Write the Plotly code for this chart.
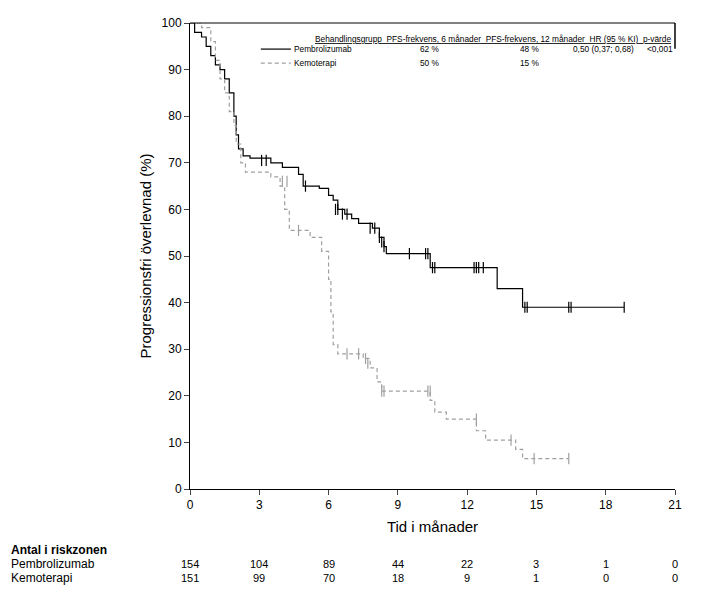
import plotly.graph_objects as go

# Kaplan-Meier steps (months, % PFS)
pem_t = [0, 0.2, 0.5, 0.7, 0.9, 1.1, 1.3, 1.5, 1.7, 1.9, 2.0, 2.1, 2.3, 2.6, 3.5, 4.0, 4.7, 4.9, 5.6, 6.0, 6.2, 6.4, 6.7, 7.0, 7.3, 7.9, 8.2, 8.4, 8.5, 10.4, 13.3, 14.4, 18.8]
pem_s = [100, 98, 97, 95, 93, 91, 90, 88, 85, 80, 76, 73, 71.5, 71, 70, 69, 67.5, 65, 64.5, 63, 62, 60, 59, 58, 57, 56, 54, 52, 50.5, 47.5, 43, 39, 39]
pem_cens_t = [3.1, 3.3, 5.0, 6.3, 6.4, 6.6, 6.8, 7.8, 8.0, 8.2, 8.3, 8.4, 9.5, 10.2, 10.3, 10.5, 10.6, 12.3, 12.4, 12.5, 12.7, 14.5, 14.6, 16.4, 16.5, 18.8]
pem_cens_s = [70.5, 70.5, 65, 60, 60, 59, 59, 56, 56, 54, 53, 52, 50.5, 50.5, 50.5, 47.5, 47.5, 47.5, 47.5, 47.5, 47.5, 39, 39, 39, 39, 39]

kem_t = [0, 0.5, 0.9, 1.1, 1.3, 1.5, 1.7, 1.9, 2.0, 2.2, 2.4, 3.5, 3.9, 4.1, 4.3, 5.2, 5.7, 6.0, 6.1, 6.2, 6.4, 7.5, 7.8, 8.1, 8.3, 10.4, 10.6, 11.1, 12.4, 12.8, 14.1, 14.4, 16.4]
kem_s = [100, 99, 96, 92, 88, 85, 81, 78, 74, 70, 68, 67, 65, 60, 55.5, 54, 51, 45, 38, 31, 29, 28, 26, 23, 21, 19, 16.5, 15, 12.5, 10.5, 8.5, 6.5, 6.5]
kem_cens_t = [4.0, 4.2, 4.7, 6.8, 7.3, 7.6, 7.7, 8.3, 8.4, 10.3, 10.4, 12.4, 13.9, 14.9, 16.4]
kem_cens_s = [66, 66, 55.5, 29, 29, 28, 27, 21, 21, 21, 21, 15, 10.5, 6.5, 6.5]

risk_times = [0, 3, 6, 9, 12, 15, 18, 21]
risk_pem = [154, 104, 89, 44, 22, 3, 1, 0]
risk_kem = [151, 99, 70, 18, 9, 1, 0, 0]

FONT = "Liberation Sans, Arial"
KEM_COL = "#a0a0a0"
fig = go.Figure()
fig.add_trace(go.Scatter(x=pem_t, y=pem_s, mode="lines", line=dict(shape="hv", color="black", width=1.2), showlegend=False))
fig.add_trace(go.Scatter(x=pem_cens_t, y=pem_cens_s, mode="markers", marker=dict(symbol="line-ns", size=8, line=dict(color="black", width=1.2)), showlegend=False))
fig.add_trace(go.Scatter(x=kem_t, y=kem_s, mode="lines", line=dict(shape="hv", color=KEM_COL, width=1.2, dash="4px,3px"), showlegend=False))
fig.add_trace(go.Scatter(x=kem_cens_t, y=kem_cens_s, mode="markers", marker=dict(symbol="line-ns", size=8, line=dict(color=KEM_COL, width=1.2)), showlegend=False))

fig.update_layout(
    width=719, height=601, plot_bgcolor="white", paper_bgcolor="white",
    margin=dict(l=182, r=52, t=15, b=120, autoexpand=False),
    font=dict(family=FONT, size=12, color="black"),
    xaxis=dict(range=[0, 21], tickvals=risk_times, ticks="outside", ticklen=5, showline=True, linecolor="black",
               showgrid=False, zeroline=False, automargin=False,
               title=dict(text="Tid i månader", font=dict(size=15), standoff=10)),
    yaxis=dict(range=[0, 100], dtick=10, ticks="outside", ticklen=5, showline=True, linecolor="black",
               showgrid=False, zeroline=False, automargin=False,
               title=dict(text="Progressionsfri överlevnad (%)", font=dict(size=15), standoff=6)),
)
# top border and legend box edge
fig.add_shape(type="line", xref="paper", yref="paper", x0=0, x1=1, y0=1, y1=1, line=dict(color="black", width=1))
fig.add_shape(type="line", xref="paper", yref="paper", x0=1, x1=1, y0=1, y1=0.945, line=dict(color="black", width=1.5))

# legend table
fig.add_annotation(xref="paper", yref="paper", x=0.995, y=0.966, xanchor="right", yanchor="middle", showarrow=False,
                   text="<u>Behandlingsgrupp  PFS-frekvens, 6 månader  PFS-frekvens, 12 månader  HR (95 % KI)  p-värde</u>",
                   font=dict(size=8.3))
rows = [("Pembrolizumab", "62 %", "48 %", "0,50 (0,37; 0,68)", "<0,001", "black", "solid"),
        ("Kemoterapi", "50 %", "15 %", "", "", KEM_COL, "4px,3px")]
for i, (name, a, b, hr, p, col, dash) in enumerate(rows):
    y = 0.944 - i * 0.03
    fig.add_shape(type="line", xref="paper", yref="paper", x0=0.146, x1=0.208, y0=y, y1=y, line=dict(color=col, width=1.2, dash=dash))
    for xx, t in [(0.21, name), (0.47, a), (0.676, b), (0.785, hr), (0.938, p)]:
        fig.add_annotation(xref="paper", yref="paper", x=xx, y=y, xanchor="left", yanchor="middle", showarrow=False,
                           text=t, font=dict(size=8.3))

# risk table
fig.add_annotation(xref="paper", yref="paper", x=-0.373, y=-0.13, xanchor="left", yanchor="middle", showarrow=False,
                   text="<b>Antal i riskzonen</b>", font=dict(size=12))
for lab, vals, yy in [("Pembrolizumab", risk_pem, -0.161), ("Kemoterapi", risk_kem, -0.19)]:
    fig.add_annotation(xref="paper", yref="paper", x=-0.373, y=yy, xanchor="left", yanchor="middle", showarrow=False,
                       text=lab, font=dict(size=12))
    for t, v in zip(risk_times, vals):
        fig.add_annotation(xref="x", yref="paper", x=t, y=yy, xanchor="center", yanchor="middle", showarrow=False,
                           text=str(v), font=dict(size=11))

fig.write_html("out.html")
